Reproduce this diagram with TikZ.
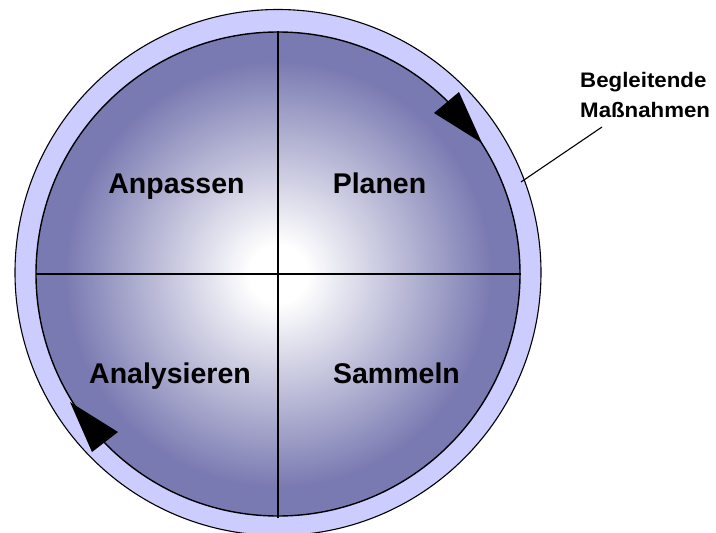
\documentclass[tikz,border=0pt]{standalone}
\usepackage{fontspec}
\setmainfont{Liberation Sans}
\definecolor{ringcol}{RGB}{204,204,255}
\definecolor{dk}{RGB}{122,122,178}
\pgfdeclareradialshading{disc}{\pgfpoint{0bp}{0bp}}{color(0bp)=(white); color(3bp)=(white); color(22bp)=(dk); color(25bp)=(dk); color(50bp)=(dk)}
\tikzset{
  lbl/.style={inner sep=0pt, anchor=base, font=\bfseries\fontsize{28.5}{34}\selectfont},
  side/.style={inner sep=0pt, anchor=base west, xscale=1.06, font=\bfseries\fontsize{21}{26}\selectfont},
  thin line/.style={line width=1.1pt, draw=black},
  headfill/.style={fill=black}
}
\begin{document}
\begin{tikzpicture}[x=1pt, y=-1pt]
\useasboundingbox (0,0) rectangle (716,533);
% outer ring
\fill[ringcol, thin line] (278,272.5) circle (263pt);
% inner disc
\shade[shading=disc] (278,274) circle (242pt);
\draw[line width=1.4pt] (278,274) circle (242pt);
% cross
\draw[thin line] (278,31) -- (278,518);
\draw[thin line] (36,274) -- (521,274);
% arrowheads
\fill[headfill] (482,143) -- (459,92) -- (434,113) -- cycle;
\fill[headfill] (70,402) -- (92,452) -- (118,432) -- cycle;
% labels
\node[lbl] (anp) at (176.5,193) {Anpassen};
\node[lbl] (pla) at (379.5,193) {Planen};
\node[lbl] (ana) at (170,383) {Analysieren};
\node[lbl] (sam) at (396.5,383) {Sammeln};
% side label
\node[side] (beg) at (580,87.5) {Begleitende};
\node[side] (mas) at (580,117.5) {Maßnahmen};
\coordinate (lp) at (521,182);
\coordinate (le) at (602,127);
\draw[thin line] (lp) -- (le);
\end{tikzpicture}
\end{document}
